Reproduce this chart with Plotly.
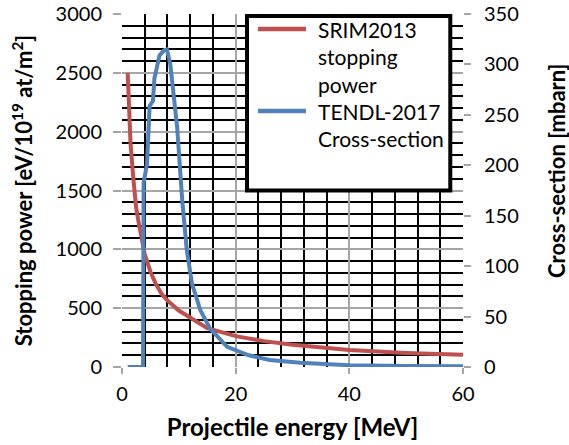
import plotly.graph_objects as go

# ---- data ----
energy_sp = [1, 1.5, 2, 2.5, 3, 3.5, 4, 5, 6, 7, 8, 10, 12, 15, 20, 25, 30, 40, 50, 60]
stopping_power = [2500, 1900, 1600, 1350, 1210, 1076, 960, 810, 700, 620, 565, 480, 420, 330,
                  262, 220, 190, 145, 120, 105]

energy_xs = [1, 2, 3, 3.7, 3.8, 4.4, 4.86, 5.45, 5.7, 6.6, 7.4, 7.9, 8.5, 9.0, 9.7, 10.6,
             11.4, 12.3, 13.8, 15.5, 18.5, 22.3, 26, 31.4, 40, 50, 60]
cross_section = [0, 0, 0, 0, 183, 201, 259, 264, 286, 309, 314, 315, 300, 275, 238, 165,
                 116, 83, 56, 38, 20, 11.6, 7, 4.3, 1.7, 1.0, 0.7]

series_names = ["SRIM2013<br>stopping<br>power", "TENDL-2017<br>Cross-section"]
series_colors = ["#C0504D", "#4F81BD"]

x_title = "Projectile energy [MeV]"
y_title = "Stopping power [eV/10<sup>19</sup> at/m<sup>2</sup>]"
y2_title = "Cross-section [mbarn]"

FONT = "Lato"
GRAY = "#A6A6A6"
BLACK = "#000000"

fig = go.Figure()
fig.add_trace(go.Scatter(x=energy_sp, y=stopping_power, mode="lines", name="SRIM2013 stopping power",
                         line=dict(color=series_colors[0], width=4), showlegend=False))
fig.add_trace(go.Scatter(x=energy_xs, y=cross_section, mode="lines", name="TENDL-2017 Cross-section",
                         line=dict(color=series_colors[1], width=4), yaxis="y2", showlegend=False))

L, R, T, B = 122, 106, 14, 78
W, H = 569, 445
pw, ph = W - L - R, H - T - B

def px_x(p):
    return (p - L) / pw

def px_y(p):
    return (H - B - p) / ph

tickfont = dict(family=FONT, size=20, color=BLACK)

fig.update_layout(
    width=W, height=H,
    margin=dict(l=L, r=R, t=T, b=B, pad=0, autoexpand=False),
    paper_bgcolor="white", plot_bgcolor="white",
    showlegend=False,
    xaxis=dict(range=[0, 60], tick0=0, dtick=20, showgrid=True, gridcolor=GRAY, gridwidth=1.5,
               zeroline=False, showline=False, ticks="outside", ticklen=6, tickcolor=GRAY,
               tickwidth=1.5, tickfont=tickfont, ticklabelstandoff=3, automargin=False,
               minor=dict(dtick=4, tick0=0, showgrid=True, gridcolor=BLACK, gridwidth=1.6),
               title=dict(text=x_title, font=dict(family=FONT, size=24, color=BLACK, weight=700),
                          standoff=15)),
    yaxis=dict(range=[0, 3000], tick0=0, dtick=500, showgrid=True, gridcolor=GRAY, gridwidth=1.5,
               zeroline=False, showline=False, ticks="outside", ticklen=8, tickcolor=GRAY,
               tickwidth=1.5, tickfont=tickfont, ticklabelstandoff=7, automargin=False,
               minor=dict(dtick=100, tick0=0, showgrid=True, gridcolor=BLACK, gridwidth=1.6),
               title=dict(text=y_title, font=dict(family=FONT, size=22, color=BLACK, weight=700),
                          standoff=16)),
    yaxis2=dict(range=[0, 350], tick0=0, dtick=50, overlaying="y", side="right", showgrid=False,
                zeroline=False, showline=False, ticks="outside", ticklen=7, tickcolor=GRAY,
                tickwidth=1.5, tickfont=tickfont, ticklabelstandoff=9, automargin=False),
)

# right axis title (placed above centre, as in the reference)
fig.add_annotation(text=y2_title, xref="paper", yref="paper", x=px_x(556.5), y=px_y(171.5),
                   xanchor="center", yanchor="middle", textangle=-90, showarrow=False,
                   font=dict(family=FONT, size=22, color=BLACK, weight=700))

# ---- manual legend box ----
fig.add_shape(type="rect", xref="paper", yref="paper",
              x0=px_x(247), x1=px_x(450.3), y0=px_y(190.5), y1=px_y(16),
              line=dict(color=BLACK, width=4), fillcolor="white", layer="above")
legend_line_y = [29, 111]
legend_text_top = [15, 97]
for name, color, ly, ty in zip(series_names, series_colors, legend_line_y, legend_text_top):
    fig.add_shape(type="line", xref="paper", yref="paper",
                  x0=px_x(258), x1=px_x(306), y0=px_y(ly), y1=px_y(ly),
                  line=dict(color=color, width=4.5), layer="above")
    fig.add_annotation(text=name, xref="paper", yref="paper", x=px_x(316), y=px_y(ty),
                       xanchor="left", yanchor="top", align="left", showarrow=False,
                       font=dict(family=FONT, size=21, color=BLACK))

fig.write_html("out.html")
